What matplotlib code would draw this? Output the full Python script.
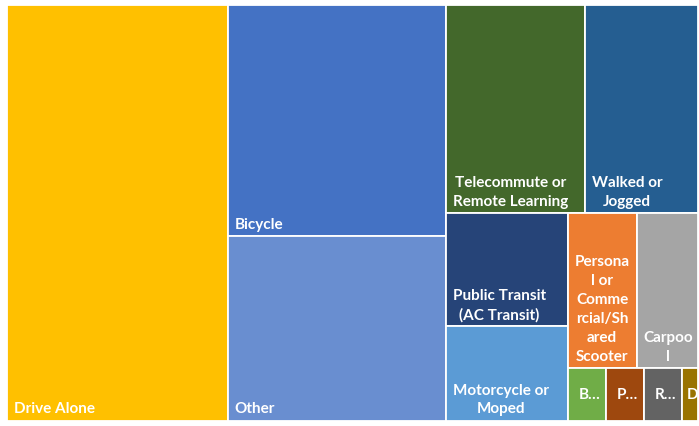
#!/usr/bin/env python3

'''
treemap of commute modes, squarified strips laid out by hand
'''

import matplotlib
matplotlib.use('Agg')
import matplotlib.pyplot as plt
from matplotlib.patches import Rectangle

# shares of respondents (per mille)
modes = ['Drive Alone', 'Bicycle', 'Other',
         'Telecommute or\nRemote Learning', 'Walked or\nJogged',
         'Public Transit\n(AC Transit)', 'Motorcycle or\nMoped',
         'Persona\nl or\nComme\nrcial/Sh\nared\nScooter', 'Carpoo\nl',
         'B\u2026', 'P\u2026', 'R\u2026', 'D']
counts = [319, 175, 140, 101, 82, 48, 40, 37, 33, 7, 7, 7, 3]
colors = ['#FFC000', '#4472C4', '#698ED0', '#43682B', '#255E91',
          '#264478', '#5B9BD5', '#ED7D31', '#A5A5A5', '#70AD47',
          '#9E480E', '#636363', '#997300']

# how many items go in each strip, and strip direction
strip_len = [1, 2, 2, 2, 2, 4]
strip_dir = ['col', 'col', 'row', 'col', 'row', 'row']

W, H = 699, 427
fig = plt.figure(figsize=(W/100, H/100), dpi=100)
ax = fig.add_axes([0, 0, 1, 1])
ax.set_xlim(0, W)
ax.set_ylim(H, 0)
ax.axis('off')

# plotting region in pixels
x0, y0, x1, y1 = 7, 6, 698, 421.5
k = (x1-x0)*(y1-y0)/sum(counts)   # pixel area per unit

rects = []
i = 0
for n, d in zip(strip_len, strip_dir):
    vals = counts[i:i+n]
    s = sum(vals)
    if d == 'col':
        w = s*k/(y1-y0)
        yy = y0
        for v in vals:
            h = v*k/w
            rects.append((x0, yy, w, h))
            yy += h
        x0 += w
    else:
        h = s*k/(x1-x0)
        xx = x0
        for v in vals:
            w = v*k/h
            rects.append((xx, y0, w, h))
            xx += w
        y0 += h
    i += n

font = dict(family='Lato', weight='bold', size=11, color='white')
nsmall = strip_len[-1]
for j, ((x, y, w, h), lab, c) in enumerate(zip(rects, modes, colors)):
    ax.add_patch(Rectangle((x, y), w, h, facecolor=c,
                           edgecolor='white', linewidth=1.3))
    if j >= len(rects)-nsmall:
        # tiny boxes: label in the middle
        ax.text(x+w/2+3, y+h/2, lab, ha='center', va='center', **font)
    else:
        ax.text(x+7, y+h-5, lab, ha='left', va='bottom',
                multialignment='center', linespacing=1.45, **font)

fig.savefig('out.png', dpi=100)
